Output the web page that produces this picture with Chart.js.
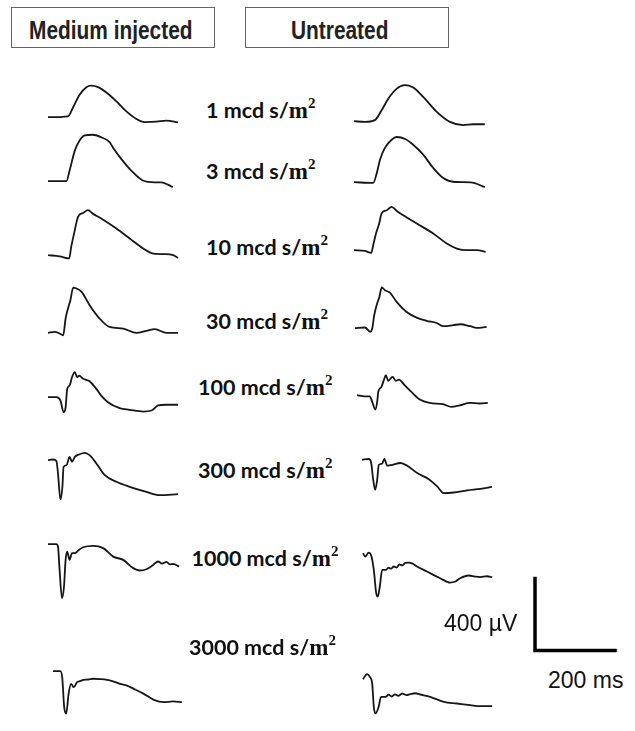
<!DOCTYPE html>
<html><head><meta charset="utf-8">
<script src="https://cdn.jsdelivr.net/npm/chart.js@4.4.1/dist/chart.umd.min.js"></script>
<style>
html,body{margin:0;padding:0;background:#fff;}
#root{position:relative;width:635px;height:731px;background:#fff;overflow:hidden;}
.box{position:absolute;border:1px solid #666;box-sizing:border-box;}
.hdr{position:absolute;font-family:"Liberation Sans",Arial,sans-serif;font-weight:bold;font-size:25px;line-height:25px;color:#222;white-space:nowrap;transform-origin:0 0;transform:scaleX(0.835);}
.lbl{position:absolute;font-family:Lato,"Open Sans",sans-serif;font-weight:bold;font-size:21.5px;line-height:21.5px;color:#111;white-space:nowrap;}
.lbl .m{font-family:"Liberation Serif",serif;font-weight:bold;font-size:23px;}
.lbl sup{font-family:"Liberation Serif",serif;font-weight:bold;font-size:15px;vertical-align:0;position:relative;top:-10px;}
.sc{position:absolute;font-family:"Liberation Sans",Arial,sans-serif;font-size:23px;line-height:23px;color:#111;white-space:nowrap;}
canvas{position:absolute;}
</style>
</head><body>
<div id="root"></div>
<script>
// ---------- DATA (time in ms after trace start, amplitude in µV relative to baseline) ----------
const intensities = ["1", "3", "10", "30", "100", "300", "1000", "3000"];
const groups = ["Medium injected", "Untreated"];

const med1T = [0,50,62,79,96,108,125,146,171,196,221,242,271,296,325];
const med1V = [0,5,51,125,167,175,167,137,88,32,-10,-27,-25,-19,-29];
const med2T = [0,46,54,67,79,92,112,133,154,164,183,208,237,267,283,312];
const med2V = [0,0,59,170,226,254,258,244,217,181,124,59,4,-6,-6,-33];
const med3T = [0,29,53,58,67,75,88,100,112,133,171,204,238,263,288,313,325];
const med3V = [0,-6,-18,46,139,213,235,250,231,204,148,93,37,9,6,0,-15];
const med4T = [0,17,29,38,44,50,56,63,71,84,104,129,154,188,221,246,267,296,325];
const med4V = [-4,2,-7,-17,76,132,178,248,243,224,150,76,29,20,-4,7,17,-4,-4];
const med5T = [0,21,31,39,44,48,54,60,67,73,78,88,104,121,133,150,179,204,238,259,275,296,325];
const med5V = [0,0,-18,-83,-56,46,65,111,139,111,120,102,89,46,9,-28,-61,-70,-80,-74,-46,-42,-42];
const med6T = [0,13,21,25,31,36,39,46,54,60,67,79,92,104,121,142,171,204,246,279,325];
const med6V = [0,4,-4,-74,-218,-148,-37,-28,18,-9,18,33,41,28,-18,-83,-120,-148,-176,-194,-189];
const med7T = [0,21,25,29,35,40,44,48,54,60,67,75,88,113,138,163,188,213,229,246,263,275,285,296,305,313,328];
const med7V = [0,0,-13,-143,-300,-235,-87,-41,-87,-50,-50,-36,-17,-9,-22,-69,-87,-133,-146,-139,-115,-96,-108,-98,-112,-110,-124];
const med8T = [0,18,23,28,33,39,45,52,60,68,76,88,101,118,135,150,168,185,202,227,252,277,300,322];
const med8V = [0,0,-33,-200,-235,-126,-70,-89,-61,-55,-48,-46,-42,-44,-48,-56,-70,-80,-98,-126,-159,-172,-168,-172];

const unt1T = [0,27,52,69,86,107,127,148,173,207,240,273,298,327];
const unt1V = [0,-4,6,61,126,181,200,187,135,52,-4,-22,-17,-17];
const unt2T = [0,48,57,65,77,94,107,128,148,173,198,223,252,292,327];
const unt2V = [0,-4,51,125,189,236,251,240,208,153,79,23,1,-1,-27];
const unt3T = [0,27,43,48,55,63,69,82,94,107,123,157,198,232,257,282,307,329];
const unt3V = [0,-4,-15,28,93,148,204,222,241,218,194,148,93,37,9,0,0,-9];
const unt4T = [0,25,38,43,48,54,61,67,75,88,104,129,154,179,204,221,246,263,288,304,329];
const unt4V = [0,4,-20,-2,72,128,174,226,211,196,146,90,59,41,29,11,17,22,11,2,7];
const unt5T = [0,19,32,38,46,51,53,61,67,72,78,89,97,105,119,136,157,182,215,236,257,282,307,327];
const unt5V = [0,-6,-6,-37,-80,-28,18,46,83,111,80,102,80,87,56,18,-24,-43,-50,-65,-56,-43,-46,-43];
const unt6T = [0,17,23,28,33,38,42,50,56,63,75,96,113,138,167,188,204,229,263,296,325];
const unt6V = [-3,1,-21,-114,-170,-114,-31,-25,1,-36,-31,-21,-36,-77,-111,-151,-188,-185,-173,-165,-154];
const unt7T = [0,6,14,20,27,33,37,42,48,57,64,70,77,84,91,98,106,114,124,135,160,193,218,231,243,264,280,293,310,323];
const unt7V = [0,-19,3,-9,-93,-222,-241,-185,-93,-93,-80,-86,-74,-80,-62,-68,-54,-52,-58,-74,-102,-139,-163,-157,-139,-124,-130,-133,-128,-133];
const unt8T = [0,10,17,23,27,31,39,45,56,64,72,80,88,98,108,118,130,143,168,202,235,268,293,323];
const unt8V = [0,28,13,-24,-154,-190,-154,-98,-98,-86,-96,-84,-92,-80,-88,-83,-78,-85,-98,-126,-135,-144,-150,-150];

const scaleBarT = [0, 0, 200];   // ms
const scaleBarV = [400, 0, 0];   // µV
const scaleTexts = ["400 \u00B5V", "200 ms"];

// ---------- LAYOUT ----------
const PX_PER_MS = 0.4, PX_PER_UV = 0.18;
const medX0 = [48.3,48.3,48.3,48.3,48.3,48.3,48.3,52.7];
const medBase = [117.5,180.7,255,332,396.7,460,544.3,670.7];
const untX0 = [354,354,354,355,357.3,361.7,362.7,362.7];
const untBase = [121,182.5,250,328,395,459.5,553.3,679];
const lblLeft = [206,206,206,206,198,198,191.5,189];
const lblBase = [119.3,180,256,330,396,479.3,566.7,656];

const root = document.getElementById('root');
const medT=[med1T,med2T,med3T,med4T,med5T,med6T,med7T,med8T];
const medV=[med1V,med2V,med3V,med4V,med5V,med6V,med7V,med8V];
const untT=[unt1T,unt2T,unt3T,unt4T,unt5T,unt6T,unt7T,unt8T];
const untV=[unt1V,unt2V,unt3V,unt4V,unt5V,unt6V,unt7V,unt8V];

function makeChart(T, V, left0, base, xmin, xmax, ymax, h, opts){
  const w = Math.round((xmax - xmin) * PX_PER_MS);
  const cv = document.createElement('canvas');
  cv.width = w; cv.height = h;
  cv.style.width = w + 'px'; cv.style.height = h + 'px';
  cv.style.left = (left0 + xmin * PX_PER_MS) + 'px';
  cv.style.top = (base - ymax * PX_PER_UV) + 'px';
  root.appendChild(cv);
  new Chart(cv, {
    type: 'line',
    data: { datasets: [Object.assign({
      data: T.map((t, i) => ({x: t, y: V[i]})),
      borderColor: '#161616', borderWidth: 1.8, pointRadius: 0,
      cubicInterpolationMode: 'monotone', fill: false
    }, opts || {})] },
    options: {
      responsive: false, animation: false, events: [],
      layout: { padding: 0 },
      plugins: { legend: { display: false }, tooltip: { enabled: false } },
      scales: {
        x: { type: 'linear', display: false, min: xmin, max: xmax },
        y: { type: 'linear', display: false, min: ymax - h / PX_PER_UV, max: ymax }
      }
    }
  });
}

for (let i = 0; i < 8; i++) {
  makeChart(medT[i], medV[i], medX0[i], medBase[i], -15, 345, 290, 120);
  makeChart(untT[i], untV[i], untX0[i], untBase[i], -15, 345, 290, 120);
}
// scale bar
makeChart(scaleBarT, scaleBarV, 535.3, 651, -10, 220, 420, 80,
  { borderColor: '#000', borderWidth: 3.5, cubicInterpolationMode: 'default', tension: 0, borderCapStyle: 'square', borderJoinStyle: 'miter' });

// header boxes
function addBox(l, t, w, h){ const d=document.createElement('div'); d.className='box';
  d.style.left=l+'px'; d.style.top=t+'px'; d.style.width=w+'px'; d.style.height=h+'px'; root.appendChild(d); }
addBox(10.5, 7, 204, 41);
addBox(245, 7, 204, 41);
function addText(cls, html, left, baseline, asc){ const d=document.createElement('div'); d.className=cls;
  d.innerHTML=html; d.style.left=left+'px'; d.style.top=(baseline-asc)+'px'; root.appendChild(d); return d; }
addText('hdr', groups[0], 29, 39.5, 21.2);
addText('hdr', groups[1], 290.7, 39.5, 21.2);
for (let i = 0; i < 8; i++) {
  addText('lbl', intensities[i] + ' mcd s/<span class="m">m</span><sup>2</sup>', lblLeft[i], lblBase[i], 19.1);
}
addText('sc', scaleTexts[0], 444, 631.7, 19.5);
addText('sc', scaleTexts[1], 548, 688.3, 19.5);
</script>
</body></html>
